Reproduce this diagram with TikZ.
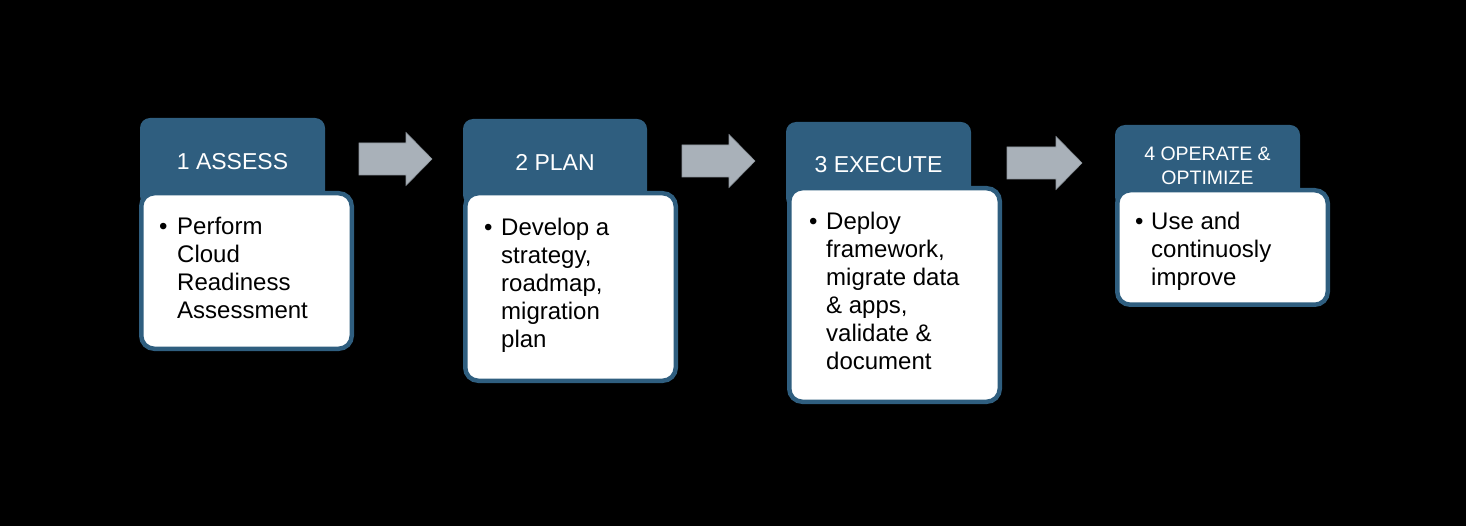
\documentclass[tikz,border=0pt]{standalone}
\usepackage{fontspec}
\setmainfont{Liberation Sans}
\definecolor{headblue}{HTML}{2F5E7F}
\definecolor{arrowgray}{HTML}{A9B1B9}
\definecolor{arrowedge}{HTML}{8E969E}
\tikzset{
  headbox/.style={fill=headblue, rounded corners=10pt},
  bodybox/.style={draw=headblue, line width=4.5pt, fill=white, rounded corners=13pt},
  headtext/.style={text=white, inner sep=0pt, align=center, font=\fontsize{23}{27}\selectfont},
  headtextsmall/.style={text=white, inner sep=0pt, align=center, font=\fontsize{19.5}{24}\selectfont},
  bodytext/.style={text=black, inner sep=0pt, anchor=base west, font=\fontsize{24}{28}\selectfont},
  bullettext/.style={text=black, inner sep=0pt, anchor=base west, font=\fontsize{24}{28}\selectfont},
  blockarrow/.pic={
    \filldraw[fill=arrowgray, draw=arrowedge, line width=0.6pt]
      (0,-16) -- (#1,-16) -- (#1,-26.5) -- ({#1+26},0) -- (#1,26.5) -- (#1,16) -- (0,16) -- cycle;
  },
  blockarrow/.default=47
}
\begin{document}
\begin{tikzpicture}[x=1pt,y=-1pt]
\fill[black] (0,0) rectangle (1466,526);
\useasboundingbox (0,0) rectangle (1466,526);

% Box 1
\fill[headbox] (140,118) rectangle (325,206);
\node[headtext] (h1) at (232.5,162) {1 ASSESS};
\draw[bodybox] (141.25,193.25) rectangle (351.75,348.75);
\coordinate (b1) at (141.25,193.25);
\node[bullettext] (d1) at (159,235) {•};
\node[bodytext] (t1) at (177,235) {\parbox[t]{170pt}{\raggedright Perform\\Cloud\\Readiness\\Assessment}};

% Arrow 1
\pic at (359,159) {blockarrow=47};

% Box 2
\fill[headbox] (463,119) rectangle (647,205);
\node[headtext] (h2) at (555,162) {2 PLAN};
\draw[bodybox] (465.25,193.25) rectangle (675.75,380.75);
\node[bullettext] (d2) at (484,236) {•};
\node[bodytext] (t2) at (501,236) {\parbox[t]{170pt}{\raggedright Develop a\\strategy,\\roadmap,\\migration\\plan}};

% Arrow 2
\pic at (682,161) {blockarrow=47};

% Box 3
\fill[headbox] (786,122) rectangle (971,208);
\node[headtext] (h3) at (878.5,165) {3 EXECUTE};
\draw[bodybox] (789.25,188.25) rectangle (999.75,401.75);
\node[bullettext] (d3) at (809,230) {•};
\node[bodytext] (t3) at (826,230) {\parbox[t]{170pt}{\raggedright Deploy\\framework,\\migrate data\\\& apps,\\validate \&\\document}};

% Arrow 3
\pic at (1007,163) {blockarrow=49};

% Box 4
\fill[headbox] (1115,125) rectangle (1300,207);
\node[headtextsmall] (h4) at (1207.5,166) {4 OPERATE \&\\OPTIMIZE};
\draw[bodybox] (1117.25,190.25) rectangle (1327.75,304.75);
\node[bullettext] (d4) at (1135,230) {•};
\node[bodytext] (t4) at (1151,230) {\parbox[t]{170pt}{\raggedright Use and\\continuosly\\improve}};
\end{tikzpicture}
\end{document}
